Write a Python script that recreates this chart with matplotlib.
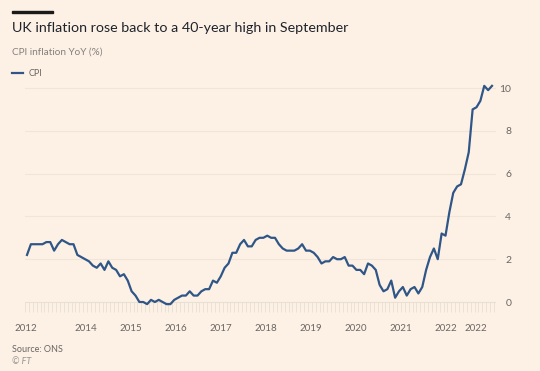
import matplotlib.pyplot as plt
import numpy as np

# UK CPI, year on year %, monthly from Sep 2012 to Sep 2022
cpi = [
    2.2, 2.7, 2.7, 2.7,                                              # 2012 Sep-Dec
    2.7, 2.8, 2.8, 2.4, 2.7, 2.9, 2.8, 2.7, 2.7, 2.2, 2.1, 2.0,      # 2013
    1.9, 1.7, 1.6, 1.8, 1.5, 1.9, 1.6, 1.5, 1.2, 1.3, 1.0, 0.5,      # 2014
    0.3, 0.0, 0.0, -0.1, 0.1, 0.0, 0.1, 0.0, -0.1, -0.1, 0.1, 0.2,   # 2015
    0.3, 0.3, 0.5, 0.3, 0.3, 0.5, 0.6, 0.6, 1.0, 0.9, 1.2, 1.6,      # 2016
    1.8, 2.3, 2.3, 2.7, 2.9, 2.6, 2.6, 2.9, 3.0, 3.0, 3.1, 3.0,      # 2017
    3.0, 2.7, 2.5, 2.4, 2.4, 2.4, 2.5, 2.7, 2.4, 2.4, 2.3, 2.1,      # 2018
    1.8, 1.9, 1.9, 2.1, 2.0, 2.0, 2.1, 1.7, 1.7, 1.5, 1.5, 1.3,      # 2019
    1.8, 1.7, 1.5, 0.8, 0.5, 0.6, 1.0, 0.2, 0.5, 0.7, 0.3, 0.6,      # 2020
    0.7, 0.4, 0.7, 1.5, 2.1, 2.5, 2.0, 3.2, 3.1, 4.2, 5.1, 5.4,      # 2021
    5.5, 6.2, 7.0, 9.0, 9.1, 9.4, 10.1, 9.9, 10.1,                   # 2022 Jan-Sep
]
months = np.arange(len(cpi))

# x labels as they appear on the original (month index of each label)
xtick_pos = [-0.3, 15.2, 26.8, 38.5, 50.1, 61.7, 73.3, 84.9, 96.5, 108.1, 115.9]
xtick_labels = ["2012", "2014", "2015", "2016", "2017", "2018",
                "2019", "2020", "2021", "2022", "2022"]
yticks = [0, 2, 4, 6, 8, 10]

bg = "#FDF1E6"
line_col = "#2F5687"
grey = "#6B6661"

plt.rcParams['font.family'] = ['Lato', 'DejaVu Sans']

W, H = 540, 371
fig = plt.figure(figsize=(W / 100, H / 100), dpi=100, facecolor=bg)

# axes placed so month 0 sits at px 27 and month 120 at px 492, 0% at py 302, 10% at py 88
x0, x1 = -0.5, 121
px_per_m = 465 / 120
left_px = 27 + x0 * px_per_m
right_px = 27 + x1 * px_per_m
y0, y1 = -0.5, 10.5
py_per_u = (302 - 88) / 10
top_py = 88 - (y1 - 10) * py_per_u
bot_py = 302 - y0 * py_per_u
ax = fig.add_axes([left_px / W, 1 - bot_py / H, (right_px - left_px) / W, (bot_py - top_py) / H])
ax.set_facecolor(bg)
ax.set_xlim(x0, x1)
ax.set_ylim(y0, y1)

for s in ax.spines.values():
    s.set_visible(False)

# faint horizontal gridlines
for v in yticks[1:]:
    ax.axhline(v, color="#F1E5D8", lw=0.8, zorder=0)

# monthly tick band under the zero line
ax.axhline(0, color="#EADFD2", lw=0.8, zorder=0)
ax.vlines(np.arange(-0.5, 121, 1), -0.45, 0, color="#ECE1D5", lw=0.7, zorder=0)

ax.plot(months, cpi, color=line_col, lw=1.6, solid_joinstyle='round', zorder=3)

ax.set_xticks(xtick_pos)
ax.set_xticklabels(xtick_labels)
ax.tick_params(axis='x', length=0, pad=8, labelsize=7, labelcolor=grey)

ax.yaxis.tick_right()
ax.set_yticks(yticks)
ax.set_yticklabels([str(v) for v in yticks])
ax.tick_params(axis='y', length=0, pad=11, labelsize=7.5, labelcolor=grey)
for lbl in ax.get_yticklabels():
    lbl.set_horizontalalignment('right')

# header
fig.patches.append(plt.Rectangle((12 / W, 1 - 13 / H), 41 / W, 2.5 / H,
                                 transform=fig.transFigure, color="#1A1A1A"))
fig.text(12 / W, 1 - 28 / H, "UK inflation rose back to a 40-year high in September",
         fontsize=10.3, color="#1F232B", va='center', ha='left')
fig.text(12 / W, 1 - 52 / H, "CPI inflation YoY (%)",
         fontsize=7.2, color="#86807B", va='center', ha='left')
fig.lines.append(plt.Line2D([12 / W, 23 / W], [1 - 73 / H, 1 - 73 / H],
                            transform=fig.transFigure, color=line_col, lw=1.6))
fig.text(29 / W, 1 - 73 / H, "CPI", fontsize=6.5, color=grey, va='center', ha='left')

# footer
fig.text(12 / W, 1 - 349 / H, "Source: ONS", fontsize=6.5, color=grey, va='center', ha='left')
fig.text(12 / W, 1 - 362 / H, "© FT", fontsize=6.5, color="#9A948E", va='center', ha='left',
         style='italic')

fig.savefig("out.png", dpi=100, facecolor=bg)
